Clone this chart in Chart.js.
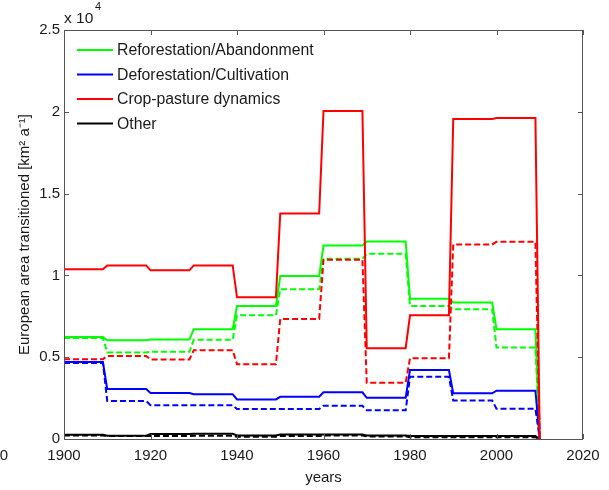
<!DOCTYPE html>
<html>
<head>
<meta charset="utf-8">
<script src="https://cdn.jsdelivr.net/npm/chart.js@4.4.1/dist/chart.umd.min.js"></script>
<style>
  html, body { margin: 0; padding: 0; background: #fff; }
  #wrap { width: 609px; height: 490px; }
</style>
</head>
<body>
<div id="wrap"><canvas id="c" width="609" height="490"></canvas></div>
<script>
// ---- data (km^2 a^-1), one value per decade 1900s..2000s; all series drop to 0 in 2010 ----
const decades = [1900, 1910, 1920, 1930, 1940, 1950, 1960, 1970, 1980, 1990, 2000];
const endYear = 2010;
const reforestSolid  = [6240, 6040, 6080, 6710, 8130, 9960, 11830, 12070, 8580, 8340, 6710];
const reforestDashed = [6180, 5290, 5330, 6060, 7560, 9150, 11020, 11320, 8130, 7930, 5590];
const deforestSolid  = [4700, 3050, 2810, 2740, 2420, 2580, 2850, 2520, 4210, 2790, 2950];
const deforestDashed = [4650, 2320, 2070, 2070, 1830, 1830, 2030, 1750, 3800, 2360, 1850];
const cropSolid      = [10370, 10610, 10310, 10610, 8660, 13780, 20050, 5550, 7560, 19560, 19620];
const cropDashed     = [4880, 5080, 4860, 5430, 4570, 7340, 10960, 3440, 4940, 11890, 12050];
const otherSolid     = [260, 200, 300, 320, 220, 280, 280, 220, 180, 180, 180];
const otherDashed    = [220, 180, 180, 200, 140, 180, 220, 160, 100, 100, 100];
const legendLabels = ['Reforestation/Abandonment', 'Deforestation/Cultivation', 'Crop-pasture dynamics', 'Other'];
const legendColors = ['#00ff00', '#0000ff', '#ff0000', '#000000'];
const xTicks = [1900, 1920, 1940, 1960, 1980, 2000, 2020];
const yTicks = [0, 5000, 10000, 15000, 20000, 25000];

// decadal step series: value held through the decade, ramps to the next decade's value
function steps(vals) {
  const pts = [];
  vals.forEach((v, i) => {
    pts.push({x: decades[i], y: v});
    pts.push({x: decades[i] + 9, y: v});
  });
  pts.push({x: endYear, y: 0});
  return pts;
}

const FONT = "'Liberation Sans', Arial, Helvetica, sans-serif";
Chart.defaults.font.family = FONT;
Chart.defaults.font.size = 15;
Chart.defaults.color = '#1a1a1a';

function ds(label, vals, color, dashed) {
  return {
    label, data: steps(vals), borderColor: color, backgroundColor: color,
    borderWidth: 2, borderDash: dashed ? [6, 3] : [], pointRadius: 0, tension: 0, fill: false
  };
}

const AXIS = '#555555';
const TICKLEN = 5;

const overlay = {
  id: 'overlay',
  afterDraw(chart) {
    const {ctx, chartArea: a, scales} = chart;
    ctx.save();
    // box
    ctx.strokeStyle = AXIS;
    ctx.lineWidth = 1;
    ctx.strokeRect(a.left + 0.5, a.top + 0.5, a.right - a.left - 1, a.bottom - a.top);
    // inward ticks
    ctx.beginPath();
    xTicks.forEach(t => {
      const px = Math.round(scales.x.getPixelForValue(t)) + 0.5;
      ctx.moveTo(px, a.bottom); ctx.lineTo(px, a.bottom - TICKLEN);
      ctx.moveTo(px, a.top); ctx.lineTo(px, a.top + TICKLEN);
    });
    yTicks.forEach(t => {
      const py = Math.round(scales.y.getPixelForValue(t)) + 0.5;
      ctx.moveTo(a.left, py); ctx.lineTo(a.left + TICKLEN, py);
      ctx.moveTo(a.right, py); ctx.lineTo(a.right - TICKLEN, py);
    });
    ctx.stroke();
    // legend
    ctx.font = '15.8px ' + FONT;
    ctx.textBaseline = 'middle';
    ctx.textAlign = 'left';
    legendLabels.forEach((lab, i) => {
      const y = 50 + i * 24.5;
      ctx.strokeStyle = legendColors[i];
      ctx.lineWidth = 2;
      ctx.beginPath(); ctx.moveTo(77, y); ctx.lineTo(113, y); ctx.stroke();
      ctx.fillStyle = '#1a1a1a';
      ctx.fillText(lab, 117, y + 1);
    });
    // exponent label
    ctx.fillStyle = '#1a1a1a';
    ctx.font = '15.5px ' + FONT;
    ctx.fillText('x 10', 64, 19);
    ctx.font = '11px ' + FONT;
    ctx.fillText('4', 95, 7);
    // stray tick label fragment at lower-left
    ctx.font = '15px ' + FONT;
    ctx.textAlign = 'right';
    ctx.fillText('0', 8, 456);
    ctx.restore();
  }
};

new Chart(document.getElementById('c'), {
  type: 'line',
  data: {
    datasets: [
      ds('Crop-pasture dynamics', cropSolid, '#ff0000', false),
      ds('Crop-pasture dynamics (dashed)', cropDashed, '#ff0000', true),
      ds('Deforestation/Cultivation', deforestSolid, '#0000ff', false),
      ds('Deforestation/Cultivation (dashed)', deforestDashed, '#0000ff', true),
      ds('Reforestation/Abandonment', reforestSolid, '#00ff00', false),
      ds('Reforestation/Abandonment (dashed)', reforestDashed, '#00ff00', true),
      ds('Other', otherSolid, '#000000', false),
      ds('Other (dashed)', otherDashed, '#000000', true)
    ]
  },
  options: {
    responsive: false,
    animation: false,
    devicePixelRatio: 1,
    layout: { padding: { left: 0, right: 26, top: 30, bottom: 0 } },
    plugins: { legend: { display: false }, tooltip: { enabled: false } },
    scales: {
      x: {
        type: 'linear', min: 1900, max: 2020,
        afterBuildTicks: s => { s.ticks = xTicks.map(v => ({value: v})); },
        afterFit: s => { s.height = 51; },
        grid: { display: false, drawTicks: false },
        border: { display: false },
        ticks: { padding: 8, maxRotation: 0, autoSkip: false, callback: v => String(v) },
        title: { display: true, text: 'years', padding: { top: 0, bottom: 3 } }
      },
      y: {
        type: 'linear', min: 0, max: 25000,
        afterBuildTicks: s => { s.ticks = yTicks.map(v => ({value: v})); },
        afterFit: s => { s.width = 64; },
        grid: { display: false, drawTicks: false },
        border: { display: false },
        ticks: { padding: 4, callback: v => String(v / 10000) },
        title: { display: true, text: 'European area transitioned [km² a⁻¹]', padding: { top: 16, bottom: 0 } }
      }
    }
  },
  plugins: [overlay]
});
</script>
</body>
</html>
